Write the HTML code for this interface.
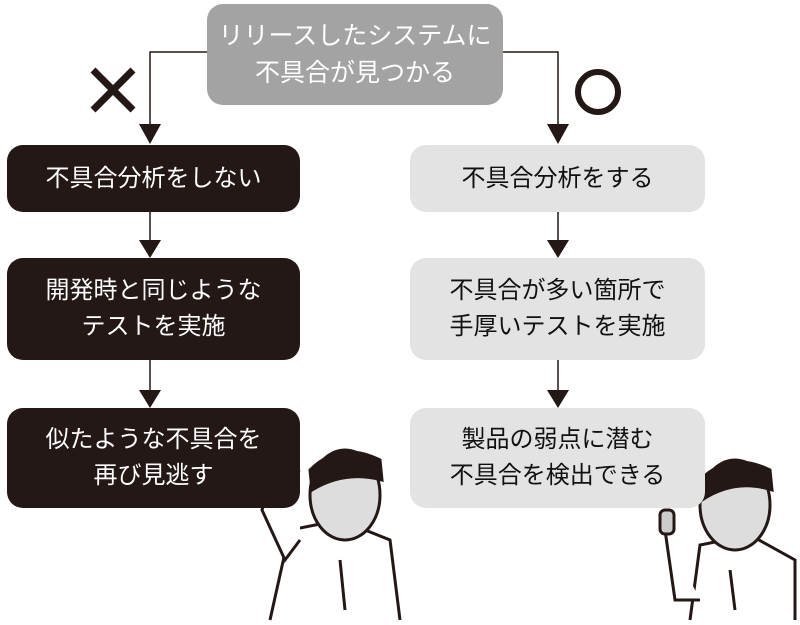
<!DOCTYPE html>
<html><head><meta charset="utf-8"><style>
body{margin:0;width:800px;height:625px;background:#fff;position:relative;overflow:hidden;font-family:"Liberation Sans","Noto Sans CJK JP",sans-serif}
.b{position:absolute;border-radius:16px;display:flex;align-items:center;justify-content:center;text-align:center;font-size:24px;line-height:36px}
.d{background:#231815;color:#fff;left:7px;width:293px}
.l{background:#e3e3e3;color:#111;left:410px;width:295px}
</style></head><body>
<svg width="800" height="625" style="position:absolute;left:0;top:0">
<g stroke="#231815" stroke-width="1.5" fill="none">
<polyline points="207,52 150,52 150,128"/>
<polyline points="503,52 558,52 558,128"/>
<line x1="150" y1="212" x2="150" y2="243"/><line x1="150" y1="360" x2="150" y2="393"/>
<line x1="558" y1="212" x2="558" y2="243"/><line x1="558" y1="360" x2="558" y2="393"/>
</g>
<g fill="#231815">
<polygon points="139,124 161,124 150,144"/><polygon points="547,124 569,124 558,144"/>
<polygon points="139,240 161,240 150,258"/><polygon points="547,240 569,240 558,258"/>
<polygon points="139,390 161,390 150,408"/><polygon points="547,390 569,390 558,408"/>
</g>
<g stroke="#231815" stroke-width="7"><line x1="93" y1="70" x2="133" y2="110"/><line x1="133" y1="70" x2="93" y2="110"/></g>
<circle cx="598" cy="92" r="20" stroke="#231815" stroke-width="6" fill="none"/>
<!-- left figure -->
<g stroke="#231815" stroke-width="3" fill="#fff">
<path d="M270,620 L290,530 L340,520 L390,540 L400,620"/>
<ellipse cx="345" cy="495" rx="35" ry="45" fill="#ddd"/>
<path d="M310,470 Q340,440 380,460 L382,480 Q345,470 312,490Z" fill="#231815"/>
<path d="M300,470 Q270,480 262,510 L285,560 L300,540" fill="#fff"/>
<line x1="340" y1="560" x2="345" y2="610"/>
</g>
<!-- right figure -->
<g stroke="#231815" stroke-width="3" fill="#fff">
<path d="M690,620 L700,545 L750,535 L795,560 L795,620"/>
<ellipse cx="735" cy="505" rx="35" ry="45" fill="#ddd"/>
<path d="M700,480 Q730,450 770,470 L772,490 Q735,478 702,500Z" fill="#231815"/>
<path d="M665,530 L675,600 L700,600" fill="#fff"/>
<rect x="660" y="510" width="14" height="24" rx="5" fill="#ccc"/>
<line x1="730" y1="570" x2="735" y2="610"/>
</g>
</svg>
<div class="b" style="left:207px;top:4px;width:296px;height:101px;background:#a3a3a3;color:#fff;font-size:25px;line-height:37px">リリースしたシステムに<br>不具合が見つかる</div>
<div class="b d" style="top:145px;height:67px">不具合分析をしない</div>
<div class="b d" style="top:258px;height:102px">開発時と同じような<br>テストを実施</div>
<div class="b d" style="top:408px;height:100px">似たような不具合を<br>再び見逃す</div>
<div class="b l" style="top:145px;height:67px">不具合分析をする</div>
<div class="b l" style="top:258px;height:102px">不具合が多い箇所で<br>手厚いテストを実施</div>
<div class="b l" style="top:408px;height:100px">製品の弱点に潜む<br>不具合を検出できる</div>
</body></html>
